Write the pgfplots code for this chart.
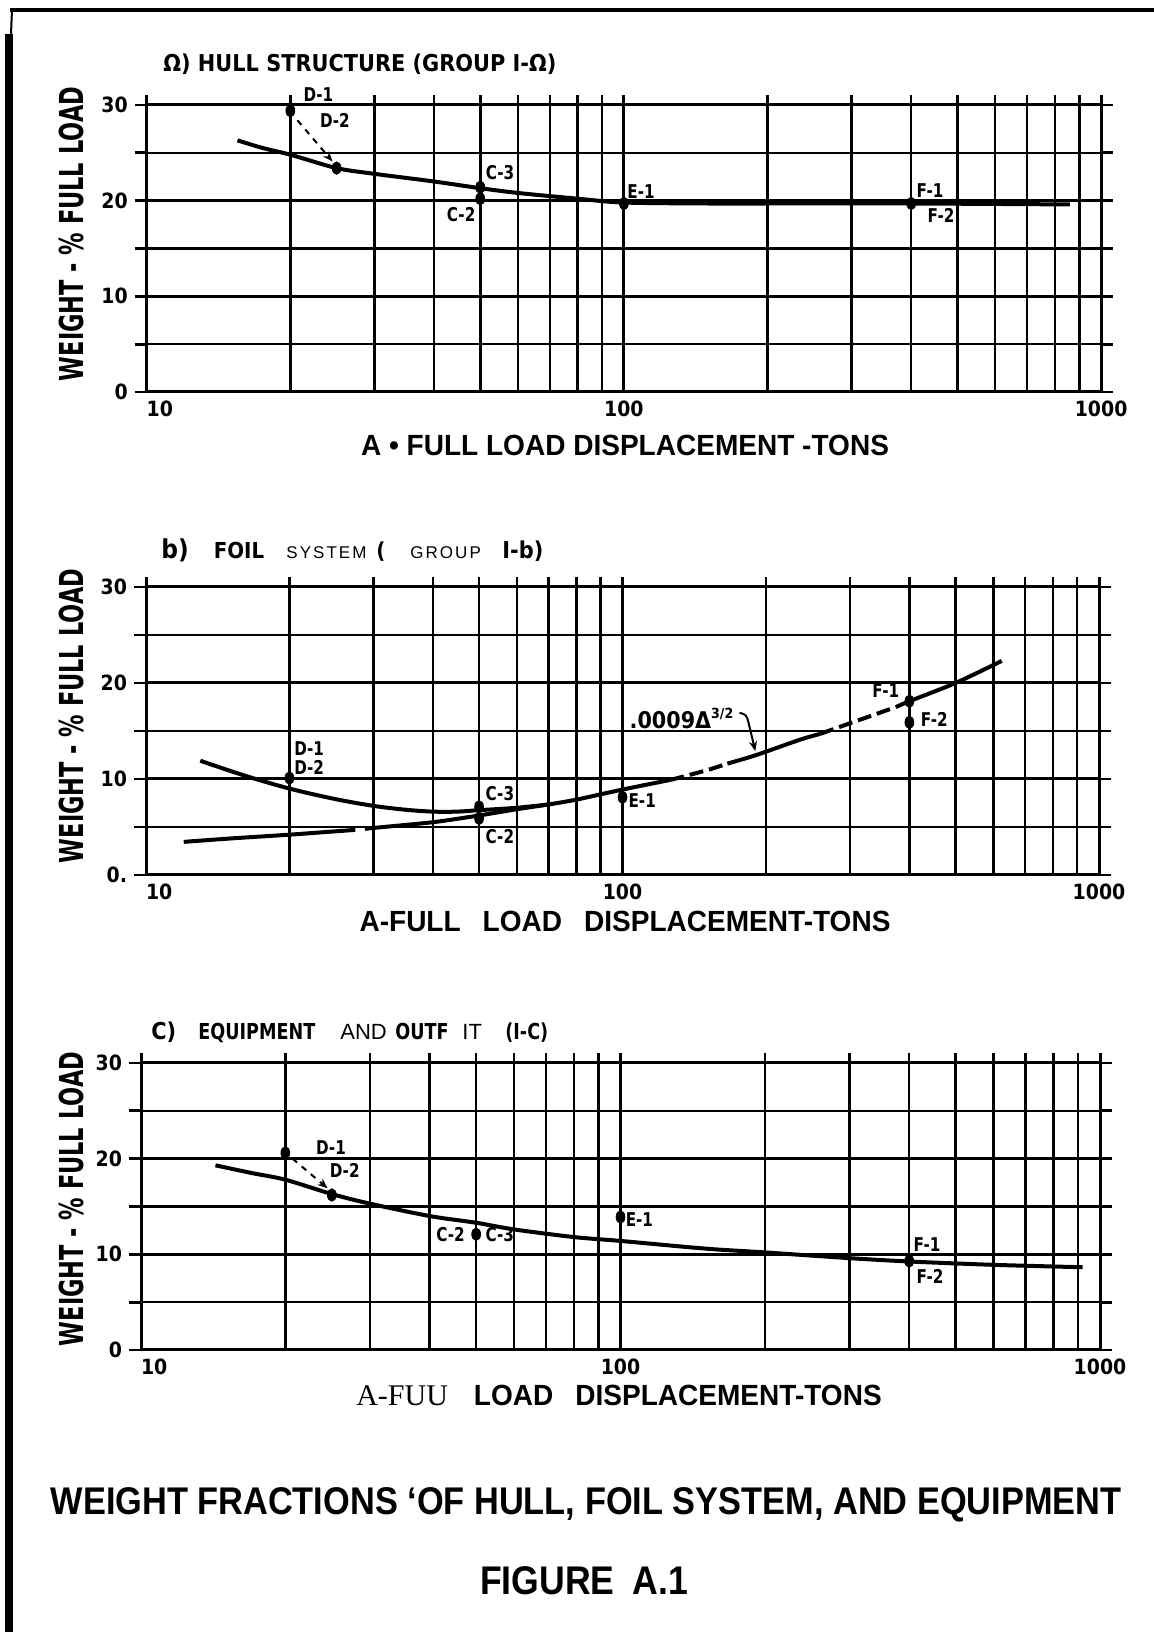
\documentclass[border=0pt]{standalone}
\usepackage{pgfplots}
\pgfplotsset{compat=1.18}
\usetikzlibrary{arrows.meta}
\usepackage{fontspec}
\setmainfont{Liberation Sans}
\newfontfamily\leroy[FakeStretch=0.9]{DejaVu Sans}
\newfontfamily\leroyn[FakeStretch=0.8]{DejaVu Sans}
\newfontfamily\ylabfont[FakeStretch=0.68]{DejaVu Sans}
\newfontfamily\condb[FakeStretch=0.96]{Liberation Sans}
\newfontfamily\capfont[FakeStretch=0.89]{Liberation Sans}
\newfontfamily\spaced[LetterSpace=12]{Liberation Sans}
\newfontfamily\serifA{Liberation Serif}

\newcommand{\pl}{\leroyn\bfseries\fontsize{9.5}{10}\selectfont}
\newcommand{\tl}{\leroy\bfseries\fontsize{10.5}{12}\selectfont}

\begin{document}
\begin{tikzpicture}
\useasboundingbox (0,0) rectangle (577pt,816pt);
% page frame
\draw[line width=4pt] (4.5pt,0) -- (4.5pt,799pt);
\draw[line width=1pt] (5.5pt,799pt) -- (6pt,811pt);
\draw[line width=2pt] (5pt,811pt) -- (577pt,811pt);

% ---------------- panel a ----------------
\begin{axis}[at={(73.35pt,620pt)}, anchor=south west, width=477.2pt, height=148.3pt,
    xmode=log, log basis x=10, scale only axis,
    xmin=10, xmax=1000, ymin=0, ymax=31,
    xtick={10,100,1000}, xticklabels={\makebox[0pt][l]{10},100,1000},
    minor xtick={20,30,40,50,60,70,80,90,200,300,400,500,600,700,800,900},
    ytick={0,10,20,30}, yticklabels={0,10,20,30},
    minor ytick={5,15,25},
    grid=both,
    major grid style={black, line width=1.5pt},
    minor grid style={black, line width=1.25pt},
    axis line style={draw=none},
    tick align=outside, ytick pos=both,
    major tick length=6pt, minor tick length=6pt,
    xtick style={draw=none},
    ytick style={black, line width=1.4pt},
    yticklabel style={font=\tl},
    xticklabel style={font=\tl, yshift=5pt},
    clip=false]
\addplot[black, line width=2pt, smooth, no marks] coordinates {(15.5,26.3) (17.5,25.5) (20,24.8) (25,23.4) (30,22.8) (40,22.0) (50,21.3) (60,20.8) (80,20.2) (100,19.8) (150,19.7) (200,19.7) (400,19.7) (860,19.6)};
\addplot[only marks, mark=*, mark size=2.6pt, mark options={black, fill=black, yscale=1.2, xscale=0.85}] coordinates {(20,29.4) (25,23.4) (50,21.4) (50,20.2) (100,19.7) (400,19.7)};
\draw[black, dashed, line width=1pt, -{Stealth[length=5pt,width=4pt]}] (axis cs:20.7,28.4) -- (axis cs:24.5,24.1);
\node at (axis cs:22.9,31.1) {\pl D-1};
\node at (axis cs:24.8,28.4) {\pl D-2};
\node at (axis cs:55,22.9) {\pl C-3};
\node at (axis cs:45.6,18.5) {\pl C-2};
\node at (axis cs:108.6,20.9) {\pl E-1};
\node at (axis cs:438,21.0) {\pl F-1};
\node at (axis cs:462,18.5) {\pl F-2};
\end{axis}

% ---------------- panel b ----------------
\begin{axis}[at={(73pt,378.5pt)}, anchor=south west, width=476.5pt, height=148.8pt,
    xmode=log, log basis x=10, scale only axis,
    xmin=10, xmax=1000, ymin=0, ymax=31,
    xtick={10,100,1000}, xticklabels={\makebox[0pt][l]{10},100,1000},
    minor xtick={20,30,40,50,60,70,80,90,200,300,400,500,600,700,800,900},
    ytick={0,10,20,30}, yticklabels={0.,10,20,30},
    minor ytick={5,15,25},
    grid=both,
    major grid style={black, line width=1.5pt},
    minor grid style={black, line width=1.25pt},
    axis line style={draw=none},
    tick align=outside, ytick pos=both,
    major tick length=6pt, minor tick length=6pt,
    xtick style={draw=none},
    ytick style={black, line width=1.4pt},
    yticklabel style={font=\tl},
    xticklabel style={font=\tl, yshift=5pt},
    clip=false]
\addplot[black, line width=2pt, smooth, no marks] coordinates {(13.0,11.9) (16,10.4) (20,9.0) (25,7.9) (30,7.2) (35,6.8) (40,6.6) (45,6.6) (50,6.75) (60,7.0) (70,7.35)};
\addplot[black, line width=2pt, smooth, no marks] coordinates {(12,3.45) (15,3.8) (20,4.2) (25,4.55) (27.5,4.7)};
\addplot[black, line width=2pt, smooth, no marks] coordinates {(28.8,4.78) (30,4.9) (40,5.5) (50,6.2) (60,6.85) (70,7.35) (80,7.85) (100,8.9) (126,9.9)};
\addplot[black, line width=2pt, smooth, no marks, dash pattern=on 7pt off 3pt] coordinates {(126,9.9) (150,10.9) (166,11.6)};
\addplot[black, line width=2pt, smooth, no marks] coordinates {(166,11.6) (191,12.5) (236,14.1) (260,14.7)};
\addplot[black, line width=2pt, smooth, no marks, dash pattern=on 7pt off 3pt] coordinates {(260,14.7) (300,15.8) (375,17.5)};
\addplot[black, line width=2pt, smooth, no marks] coordinates {(375,17.5) (400,18.1) (500,20.0) (625,22.3)};
\addplot[only marks, mark=*, mark size=2.6pt, mark options={black, fill=black, yscale=1.2, xscale=0.85}] coordinates {(20,10.1) (50,7.1) (50,5.9) (100,8.1) (400,18.1) (400,15.9)};
\node at (axis cs:22,13.2) {\pl D-1};
\node at (axis cs:22,11.25) {\pl D-2};
\node at (axis cs:55.3,8.5) {\pl C-3};
\node at (axis cs:55.3,4.0) {\pl C-2};
\node at (axis cs:110,7.7) {\pl E-1};
\node at (axis cs:357,19.2) {\pl F-1};
\node at (axis cs:451,16.25) {\pl F-2};
\node at (axis cs:133,16.35) {\leroy\bfseries\fontsize{11.5}{12}\selectfont .0009Δ\raisebox{5pt}{\fontsize{7}{7}\selectfont 3/2}};
\draw[black, line width=1pt, -{Stealth[length=5pt,width=4pt]}] (axis cs:176,16.9) .. controls (axis cs:182,16.7) .. (axis cs:184,15.8) -- (axis cs:190,12.9);
\end{axis}

% ---------------- panel c ----------------
\begin{axis}[at={(70.5pt,141pt)}, anchor=south west, width=479.5pt, height=148.3pt,
    xmode=log, log basis x=10, scale only axis,
    xmin=10, xmax=1000, ymin=0, ymax=31,
    xtick={10,100,1000}, xticklabels={\makebox[0pt][l]{10},100,1000},
    minor xtick={20,30,40,50,60,70,80,90,200,300,400,500,600,700,800,900},
    ytick={0,10,20,30}, yticklabels={0,10,20,30},
    minor ytick={5,15,25},
    grid=both,
    major grid style={black, line width=1.5pt},
    minor grid style={black, line width=1.25pt},
    axis line style={draw=none},
    tick align=outside, ytick pos=both,
    major tick length=6pt, minor tick length=6pt,
    xtick style={draw=none},
    ytick style={black, line width=1.4pt},
    yticklabel style={font=\tl},
    xticklabel style={font=\tl, yshift=5pt},
    clip=false]
\addplot[black, line width=2pt, smooth, no marks] coordinates {(14.3,19.3) (17,18.5) (20,17.8) (25,16.3) (30,15.3) (40,14.0) (50,13.3) (60,12.6) (80,11.8) (100,11.4) (150,10.6) (200,10.2) (300,9.6) (400,9.25) (600,8.9) (920,8.65)};
\addplot[only marks, mark=*, mark size=2.6pt, mark options={black, fill=black, yscale=1.2, xscale=0.85}] coordinates {(20,20.6) (25,16.2) (50,12.1) (100,13.9) (400,9.3)};
\draw[black, dashed, line width=1pt, -{Stealth[length=5pt,width=4pt]}] (axis cs:20.7,20.0) -- (axis cs:24.5,16.9);
\node at (axis cs:24.9,21.2) {\pl D-1};
\node at (axis cs:26.6,18.8) {\pl D-2};
\node at (axis cs:44.2,12.1) {\pl C-2};
\node at (axis cs:56,12.1) {\pl C-3};
\node at (axis cs:109.5,13.6) {\pl E-1};
\node at (axis cs:435.7,11.0) {\pl F-1};
\node at (axis cs:442,7.7) {\pl F-2};
\end{axis}

% ---------------- titles ----------------
\node[anchor=base west, inner sep=0] at (81.5pt,780pt) {\leroy\bfseries\fontsize{11.6}{14}\selectfont Ω) HULL STRUCTURE (GROUP I-Ω)};

\node[anchor=base west, inner sep=0] at (80.5pt,536.5pt) {\leroy\bfseries\fontsize{13}{14}\selectfont b)};
\node[anchor=base west, inner sep=0] at (106.7pt,536.5pt) {\leroy\bfseries\fontsize{11}{14}\selectfont FOIL};
\node[anchor=base west, inner sep=0] at (143pt,536.5pt) {\spaced\fontsize{8.5}{10}\selectfont SYSTEM};
\node[anchor=base west, inner sep=0] at (188pt,536.5pt) {\leroy\bfseries\fontsize{11}{14}\selectfont (};
\node[anchor=base west, inner sep=0] at (205pt,536.5pt) {\spaced\fontsize{8.5}{10}\selectfont GROUP};
\node[anchor=base west, inner sep=0] at (251pt,536.5pt) {\leroy\bfseries\fontsize{11.6}{14}\selectfont I-b)};

\node[anchor=base west, inner sep=0] at (75.5pt,296pt) {\leroy\bfseries\fontsize{11.6}{14}\selectfont C)};
\node[anchor=base west, inner sep=0] at (99pt,296pt) {\leroyn\bfseries\fontsize{11}{14}\selectfont EQUIPMENT};
\node[anchor=base west, inner sep=0] at (170pt,296pt) {\fontsize{11}{14}\selectfont AND};
\node[anchor=base west, inner sep=0] at (197.5pt,296pt) {\leroyn\bfseries\fontsize{11}{14}\selectfont OUTF};
\node[anchor=base west, inner sep=0] at (231pt,296pt) {\fontsize{11}{14}\selectfont IT};
\node[anchor=base west, inner sep=0] at (252.5pt,296pt) {\leroyn\bfseries\fontsize{11}{14}\selectfont (I-C)};

% ---------------- y labels ----------------
\node[rotate=90] at (35.5pt,699pt) {\ylabfont\bfseries\fontsize{16.5}{18}\selectfont WEIGHT - \% FULL LOAD};
\node[rotate=90] at (35.5pt,458pt) {\ylabfont\bfseries\fontsize{16.5}{18}\selectfont WEIGHT - \% FULL LOAD};
\node[rotate=90] at (35.5pt,216.5pt) {\ylabfont\bfseries\fontsize{16.5}{18}\selectfont WEIGHT - \% FULL LOAD};

% ---------------- x labels ----------------
\node at (312.5pt,593.5pt) {\condb\bfseries\fontsize{14.6}{16}\selectfont A • FULL LOAD DISPLACEMENT -TONS};
\node at (312.5pt,355.5pt) {\condb\bfseries\fontsize{14.6}{16}\selectfont A-FULL\hspace{11pt}LOAD\hspace{11pt}DISPLACEMENT-TONS};
\node at (309.5pt,118.5pt) {{\serifA\fontsize{15}{16}\selectfont A-FUU}\hspace{13pt}{\condb\bfseries\fontsize{14.6}{16}\selectfont LOAD\hspace{11pt}DISPLACEMENT-TONS}};

% ---------------- caption ----------------
\node at (293pt,63.5pt) {\capfont\bfseries\fontsize{19.3}{22}\selectfont WEIGHT FRACTIONS ‘OF HULL, FOIL SYSTEM, AND EQUIPMENT};
\node at (292pt,25.5pt) {\capfont\bfseries\fontsize{20}{22}\selectfont FIGURE\hspace{9pt}A.1};
\end{tikzpicture}
\end{document}
